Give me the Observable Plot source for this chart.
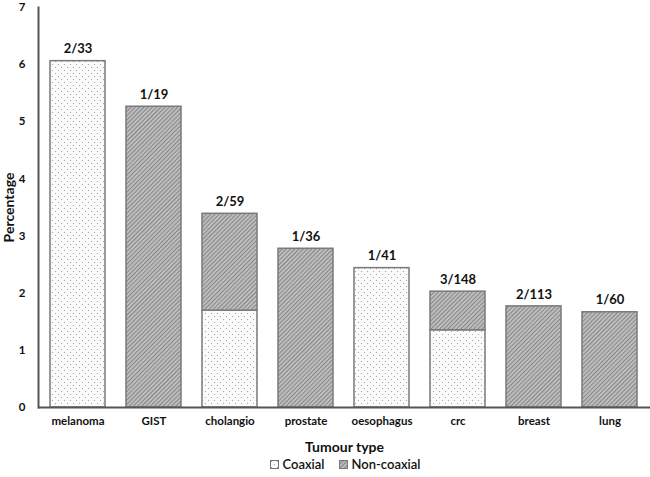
<!DOCTYPE html>
<html>
<head>
<meta charset="utf-8">
<script src="https://cdn.jsdelivr.net/npm/d3@7"></script>
<script src="https://cdn.jsdelivr.net/npm/@observablehq/plot@0.6"></script>
<style>
  body { margin: 0; background: #fff; font-family: Lato, "Open Sans", sans-serif; }
  #legend { display: flex; justify-content: center; gap: 14px; font-size: 13px; font-weight: 600; color: #111; margin-top: 1px; margin-left: 40px; }
  #legend span { display: inline-flex; align-items: center; gap: 4px; }
</style>
</head>
<body>
<div id="chart"></div>
<div id="legend"></div>
<script>
const categories = ["melanoma", "GIST", "cholangio", "prostate", "oesophagus", "crc", "breast", "lung"];
const coaxialCounts = [2, 0, 1, 0, 1, 2, 0, 0];
const nonCoaxialCounts = [0, 1, 1, 1, 0, 1, 2, 1];
const totals = [33, 19, 59, 36, 41, 148, 113, 60];
const types = ["Coaxial", "Non-coaxial"];
const yTicks = [0, 1, 2, 3, 4, 5, 6, 7];

const rows = [];
categories.forEach((c, i) => {
  rows.push({cat: c, type: "Coaxial", pct: coaxialCounts[i] / totals[i] * 100});
  rows.push({cat: c, type: "Non-coaxial", pct: nonCoaxialCounts[i] / totals[i] * 100});
});
const labels = categories.map((c, i) => ({
  cat: c,
  total: (coaxialCounts[i] + nonCoaxialCounts[i]) / totals[i] * 100,
  text: `${coaxialCounts[i] + nonCoaxialCounts[i]}/${totals[i]}`
}));

const svg = Plot.plot({
  width: 650,
  height: 455,
  marginLeft: 38,
  marginRight: 0,
  marginTop: 7,
  marginBottom: 48,
  style: {fontFamily: "Lato, 'Open Sans', sans-serif", fontSize: "11px", fontWeight: "bold", color: "#111"},
  x: {domain: categories, paddingInner: 0.27, paddingOuter: 0.15, label: null},
  y: {domain: [0, 7], label: null},
  color: {domain: types, range: ["url(#dots)", "url(#hatch)"]},
  marks: [
    Plot.frame({anchor: "left", stroke: "#555", strokeWidth: 2}),
    Plot.barY(rows, Plot.stackY({x: "cat", y: "pct", fill: "type", order: types, stroke: "#7a7a7a", strokeWidth: 1.5})),
    Plot.ruleY([0], {stroke: "#555", strokeWidth: 2}),
    Plot.text(labels, {x: "cat", y: "total", text: "text", dy: -12, fontSize: 13, fontWeight: "bold", fill: "#111"}),
    Plot.axisY({ticks: yTicks, tickSize: 0, tickPadding: 13, tickFormat: d3.format("d"), fontSize: 11.5, fontWeight: "bold", label: "Percentage", labelAnchor: "center", labelArrow: "none", labelOffset: 34}),
    Plot.axisX({tickSize: 0, tickPadding: 9, fontSize: 11.5, fontWeight: "bold", label: "Tumour type", labelAnchor: "center", labelArrow: "none", labelOffset: 44})
  ]
});

const defs = d3.select(svg).insert("defs", ":first-child");
const dots = defs.append("pattern").attr("id", "dots").attr("patternUnits", "userSpaceOnUse").attr("width", 6).attr("height", 6);
dots.append("rect").attr("width", 6).attr("height", 6).attr("fill", "#fbfbfb");
dots.append("circle").attr("cx", 1.5).attr("cy", 1.5).attr("r", 0.6).attr("fill", "#999");
dots.append("circle").attr("cx", 4.5).attr("cy", 4.5).attr("r", 0.6).attr("fill", "#999");
const hatch = defs.append("pattern").attr("id", "hatch").attr("patternUnits", "userSpaceOnUse").attr("width", 3).attr("height", 3).attr("patternTransform", "rotate(45)");
hatch.append("rect").attr("width", 3).attr("height", 3).attr("fill", "#bdbdbd");
hatch.append("line").attr("x1", 0).attr("y1", 0).attr("x2", 0).attr("y2", 3).attr("stroke", "#6a6a6a").attr("stroke-width", 1.3);

d3.select(svg).selectAll("[aria-label='x-axis label'] text, [aria-label='y-axis label'] text").style("font-size", "14px").style("font-weight", "bold");

document.getElementById("chart").appendChild(svg);

const legend = document.getElementById("legend");
types.forEach((t, i) => {
  const span = document.createElement("span");
  span.innerHTML = `<svg width="9" height="9"><rect x="0.5" y="0.5" width="8" height="8" fill="${i ? "url(#hatch)" : "url(#dots)"}" stroke="#777"/></svg>${t}`;
  legend.appendChild(span);
});
</script>
</body>
</html>
